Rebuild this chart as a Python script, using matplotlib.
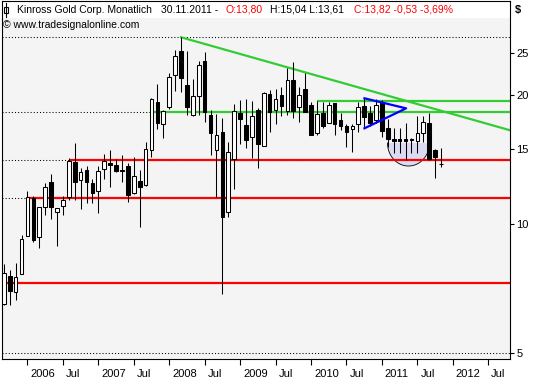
import numpy as np
import matplotlib
matplotlib.use("Agg")
import matplotlib.pyplot as plt
from matplotlib.patches import Rectangle, Polygon
from matplotlib.lines import Line2D
import matplotlib.transforms as mtransforms

plt.rcParams["font.family"] = ["Liberation Sans", "DejaVu Sans"]

# monthly candles Sep 2005 .. Nov 2011
opens = [6.51, 7.57, 6.95, 7.65, 9.38, 11.51, 9.33, 10.96, 12.54, 10.67, 11.02, 11.57,
         13.95, 12.67, 13.37, 12.44, 11.97, 13.42, 13.90, 13.70, 13.37, 13.66, 11.80, 12.62,
         12.31, 14.88, 19.25, 17.08, 18.71, 22.28, 25.30, 21.09, 17.96, 19.91, 23.97, 17.93,
         14.86, 16.37, 10.69, 14.20, 18.12, 17.02, 15.99, 18.44, 15.24, 20.13, 18.44, 19.99,
         18.37, 21.66, 18.77, 20.64, 18.94, 16.27, 18.12, 17.23, 19.19, 17.48, 16.93, 16.63,
         17.08, 18.84, 18.12, 17.48, 19.13, 16.74, 15.81, 15.81, 15.79, 15.79, 15.64, 16.33,
         17.23, 14.88, 13.80]
highs = [8.07, 7.82, 8.12, 9.43, 11.95, 11.63, 10.96, 12.47, 13.08, 10.91, 11.63, 14.25,
         15.45, 13.51, 13.66, 12.72, 13.66, 14.57, 14.88, 14.20, 14.47, 13.85, 14.30, 13.37,
         15.51, 19.68, 21.20, 18.44, 22.45, 25.45, 27.24, 25.35, 21.80, 23.97, 25.13, 18.44,
         18.06, 17.65, 15.51, 19.04, 19.46, 19.53, 19.36, 18.61, 20.28, 20.53, 20.64, 20.83,
         23.10, 23.80, 20.90, 22.45, 19.29, 19.39, 19.29, 19.29, 19.19, 18.12, 17.13, 17.13,
         19.29, 19.71, 18.84, 19.53, 19.46, 17.55, 16.74, 16.74, 17.19, 15.86, 17.82, 17.82,
         18.12, 15.00, 15.04]
lows = [6.48, 6.48, 6.66, 7.65, 9.38, 9.08, 8.79, 10.50, 10.28, 8.89, 10.50, 11.38,
        11.38, 10.85, 11.20, 11.22, 10.63, 12.72, 12.22, 13.23, 12.56, 11.26, 11.76, 9.86,
        12.26, 14.36, 16.68, 15.84, 18.57, 20.42, 20.31, 17.96, 17.86, 17.96, 17.31, 14.51,
        11.59, 6.86, 10.41, 12.09, 15.37, 15.04, 14.28, 13.53, 15.24, 16.42, 17.11, 17.86,
        17.96, 17.65, 17.31, 18.21, 16.09, 16.09, 16.74, 17.19, 16.13, 16.57, 15.16, 14.73,
        16.42, 16.74, 16.93, 17.19, 15.93, 15.16, 14.62, 14.62, 14.10, 14.66, 14.62, 15.56,
        14.10, 12.78, 13.61]
closes = [7.69, 6.98, 7.53, 9.23, 11.57, 9.18, 10.96, 12.20, 10.96, 10.91, 11.38, 14.02,
          12.54, 13.23, 12.54, 11.83, 13.28, 14.05, 13.75, 13.28, 13.28, 11.67, 12.94, 12.18,
          14.93, 19.61, 17.23, 18.31, 21.98, 24.64, 21.94, 18.77, 19.88, 23.48, 18.21, 16.33,
          16.10, 10.41, 14.76, 18.31, 17.60, 15.73, 17.86, 15.39, 20.17, 18.24, 19.53, 18.87,
          21.66, 18.37, 19.99, 18.21, 16.13, 18.06, 16.93, 18.94, 17.11, 16.93, 16.36, 16.93,
          18.77, 17.80, 17.23, 18.94, 16.51, 15.76, 15.64, 15.64, 15.64, 15.70, 16.33, 17.31,
          14.15, 14.32, 13.82]

x_labels = ["2006", "Jul", "2007", "Jul", "2008", "Jul", "2009", "Jul",
            "2010", "Jul", "2011", "Jul", "2012", "Jul"]
y_ticks = [5, 10, 15, 20, 25]

# drawn support / resistance lines: level, first candle
red_levels = [14.12, 11.52, 7.29]
red_starts = [11, 4, -1]
green_levels = [18.2, 19.38]
green_starts = [25, 53]
guide_levels = [27.25, 18.2, 14.12, 11.52, 5.0]
trend_x = [30, 85.25]
trend_y = [27.25, 16.61]
tri_x = [61.05, 68.1, 61.05]
tri_y = [19.64, 18.61, 16.72]

BG = "#F4F4F4"
W, H = 540, 380
fig = plt.figure(figsize=(W / 100, H / 100), dpi=100)
fig.patch.set_facecolor("white")
ax = fig.add_axes([1.5 / W, 1 - 359 / H, 508 / W, 358 / H])
ax.set_facecolor(BG)

n = len(opens)
idx = np.arange(n)
xmin, xmax = -0.39, 85.6
ax.set_xlim(xmin, xmax)
ax.set_yscale("log")
ax.set_ylim(4.85, 33.1)

# white title strip at top
ax.add_patch(Rectangle((0, 1 - 17 / 358), 1, 17 / 358, transform=ax.transAxes,
                       facecolor="white", edgecolor="none", zorder=0.5))

# dotted guides
for lv in guide_levels:
    ax.axhline(lv, color="black", lw=0.75, ls=(0, (1, 2)), zorder=1)

for lv, st in zip(red_levels, red_starts):
    ax.plot([max(st, xmin), xmax], [lv, lv], color="#FF0000", lw=1.6, zorder=2,
            solid_capstyle="butt")
for lv, st in zip(green_levels, green_starts):
    ax.plot([st, xmax], [lv, lv], color="#33CC33", lw=1.6, zorder=2,
            solid_capstyle="butt")

# trend line, straight in log space
slope = (np.log(trend_y[1]) - np.log(trend_y[0])) / (trend_x[1] - trend_x[0])
tx = np.array([trend_x[0], xmax])
ty = np.exp(np.log(trend_y[0]) + slope * (tx - trend_x[0]))
ax.plot(tx, ty, color="#33CC33", lw=1.6, zorder=2)

# rounded bottom
t = np.linspace(0, np.pi, 60)
ex = 68.5 + 3.55 * np.cos(t)
ey = np.exp(np.log(15.45) - 0.1234 * np.sin(t))
ax.add_patch(Polygon(np.column_stack([ex, ey]), closed=True, facecolor="#DADAF2",
                     edgecolor="none", zorder=1.5))
ax.plot(ex, ey, color="black", lw=0.6, zorder=1.6)

ax.plot(tri_x, tri_y, color="#0000FF", lw=1.6, zorder=4)

# candles
o = np.array(opens); c = np.array(closes)
up = c >= o
ax.vlines(idx, lows, highs, color="black", lw=0.75, zorder=3)
bot = np.minimum(o, c)
top = np.maximum(o, c)
ax.bar(idx[up], top[up] - bot[up], bottom=bot[up], width=0.62, color="white",
       edgecolor="black", linewidth=0.75, zorder=3.5)
ax.bar(idx[~up], top[~up] - bot[~up], bottom=bot[~up], width=0.62, color="black",
       edgecolor="black", linewidth=0.75, zorder=3.5)

# axes styling
for s in ax.spines.values():
    s.set_color("black")
    s.set_linewidth(0.8)
ax.yaxis.tick_right()
ax.set_yticks(y_ticks)
ax.set_yticklabels([str(v) for v in y_ticks])
ax.yaxis.set_minor_locator(matplotlib.ticker.NullLocator())
ax.tick_params(axis="y", direction="out", length=3, width=0.8, pad=2, labelsize=8)

xt = np.arange(4, 4 + 6 * len(x_labels), 6)
ax.set_xticks(xt)
ax.set_xticklabels(x_labels)
ax.tick_params(axis="x", direction="out", length=4, width=0.8, pad=3, labelsize=8)
off = mtransforms.ScaledTranslation(3 / 100, 0, fig.dpi_scale_trans)
for lab in ax.get_xticklabels():
    lab.set_horizontalalignment("left")
    lab.set_transform(lab.get_transform() + off)

# header
def px(x, y):
    return x / W, 1 - y / H

kw = dict(fontsize=7.5, va="center", ha="left")
fig.text(*px(16.7, 10), "Kinross Gold Corp. Monatlich", color="black", **kw)
fig.text(*px(161, 10), "30.11.2011 -", color="black", **kw)
fig.text(*px(225, 10), "O:13,80", color="#FF0000", **kw)
fig.text(*px(270, 10), "H:15,04 L:13,61", color="black", **kw)
fig.text(*px(354, 10), "C:13,82 -0,53 -3,69%", color="#FF0000", **kw)
fig.text(*px(3, 25), "\u00a9 www.tradesignalonline.com", color="black", **kw)
fig.text(*px(515, 10), "$", color="black", fontsize=8, va="center", ha="left",
         fontweight="bold")

# small candle icon
fig.add_artist(Line2D([5.5 / W, 5.5 / W], [1 - 3 / H, 1 - 17 / H], color="black", lw=0.8))
fig.add_artist(Rectangle((3.5 / W, 1 - 13 / H), 4 / W, 6 / H, facecolor="white",
                         edgecolor="black", lw=0.8))

fig.savefig("out.png", dpi=100, facecolor="white")
